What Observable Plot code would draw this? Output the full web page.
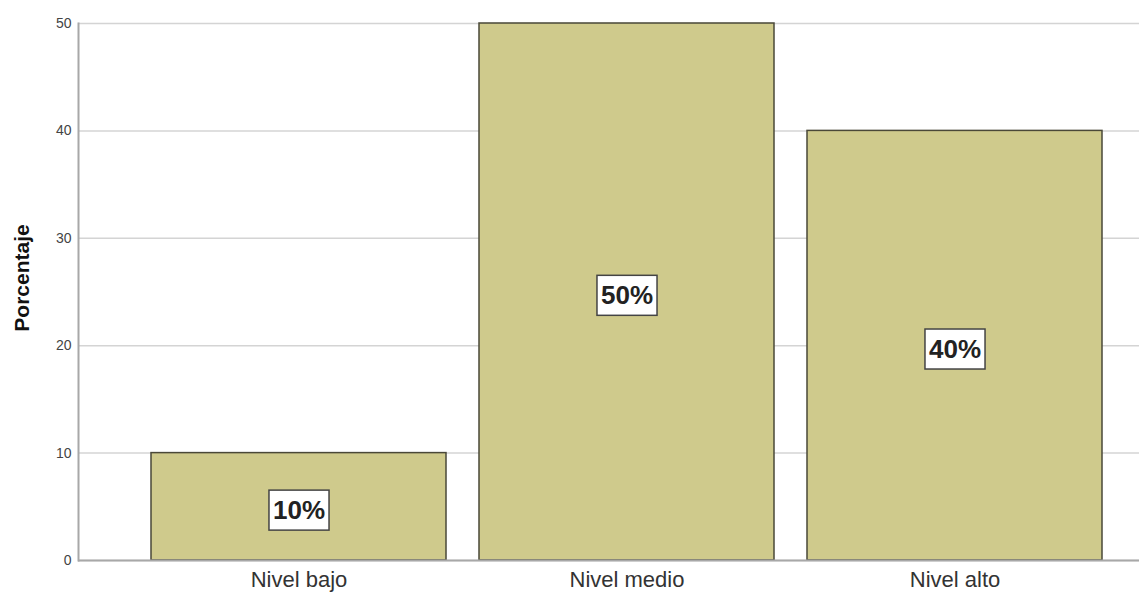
<!DOCTYPE html>
<html>
<head>
<meta charset="utf-8">
<script src="https://cdn.jsdelivr.net/npm/d3@7"></script>
<script src="https://cdn.jsdelivr.net/npm/@observablehq/plot@0.6"></script>
<style>
  html, body { margin: 0; padding: 0; background: #fff; }
  svg { font-family: Arial, "Liberation Sans", sans-serif; }
</style>
</head>
<body>
<div id="chart"></div>
<script>
const categories = ["Nivel bajo", "Nivel medio", "Nivel alto"];
const percentages = [10, 50, 40];
const valueLabels = ["10%", "50%", "40%"];
const yTicks = [0, 10, 20, 30, 40, 50];
const yTitle = "Porcentaje";

const data = categories.map((c, i) => ({ cat: c, value: percentages[i], label: valueLabels[i] }));

const chart = Plot.plot({
  width: 1139,
  height: 595,
  marginTop: 23,
  marginBottom: 35,
  marginLeft: 78,
  marginRight: 0,
  style: { fontFamily: "Arial, 'Liberation Sans', sans-serif", background: "#fff" },
  x: { domain: categories, paddingInner: 0.1, paddingOuter: 0.1625, align: 0.664, label: null },
  y: { domain: [0, 50], ticks: yTicks, label: null },
  marks: [
    Plot.gridY(yTicks, { stroke: "#d4d4d4", strokeOpacity: 1, strokeWidth: 1.5 }),
    Plot.barY(data, { x: "cat", y: "value", fill: "#cfca8c", stroke: "#4a4838", strokeWidth: 1.5 }),
    Plot.ruleY([0], { stroke: "#a8a8a8", strokeWidth: 2 }),
    Plot.frame({ anchor: "left", stroke: "#a8a8a8", strokeWidth: 2 }),
    Plot.axisY({ ticks: yTicks, tickSize: 0, tickPadding: 7, fontSize: 14, fill: "#444", label: null }),
    Plot.axisX({ tickSize: 0, tickPadding: 11, fontSize: 22, fill: "#333", label: null }),
    Plot.text([yTitle], { frameAnchor: "left", textAnchor: "middle", rotate: -90, dx: -56, dy: -14, fontSize: 21, fontWeight: "bold", fill: "#111" }),
    Plot.text(data, { x: "cat", y: d => d.value / 2, text: "label", dy: 4, fontSize: 26, fontWeight: "bold", fill: "#222", className: "vlabel" })
  ]
});

document.getElementById("chart").appendChild(chart);

// white boxes behind value labels, sized from each rendered label
chart.querySelectorAll(".vlabel text").forEach(t => {
  const b = t.getBBox();
  const padX = 4, padY = 5;
  const r = document.createElementNS("http://www.w3.org/2000/svg", "rect");
  r.setAttribute("x", b.x - padX);
  r.setAttribute("y", b.y - padY);
  r.setAttribute("width", b.width + 2 * padX);
  r.setAttribute("height", b.height + 2 * padY);
  r.setAttribute("fill", "#fff");
  r.setAttribute("stroke", "#444");
  r.setAttribute("stroke-width", "1.5");
  if (t.getAttribute("transform")) r.setAttribute("transform", t.getAttribute("transform"));
  t.parentNode.insertBefore(r, t);
});
</script>
</body>
</html>
